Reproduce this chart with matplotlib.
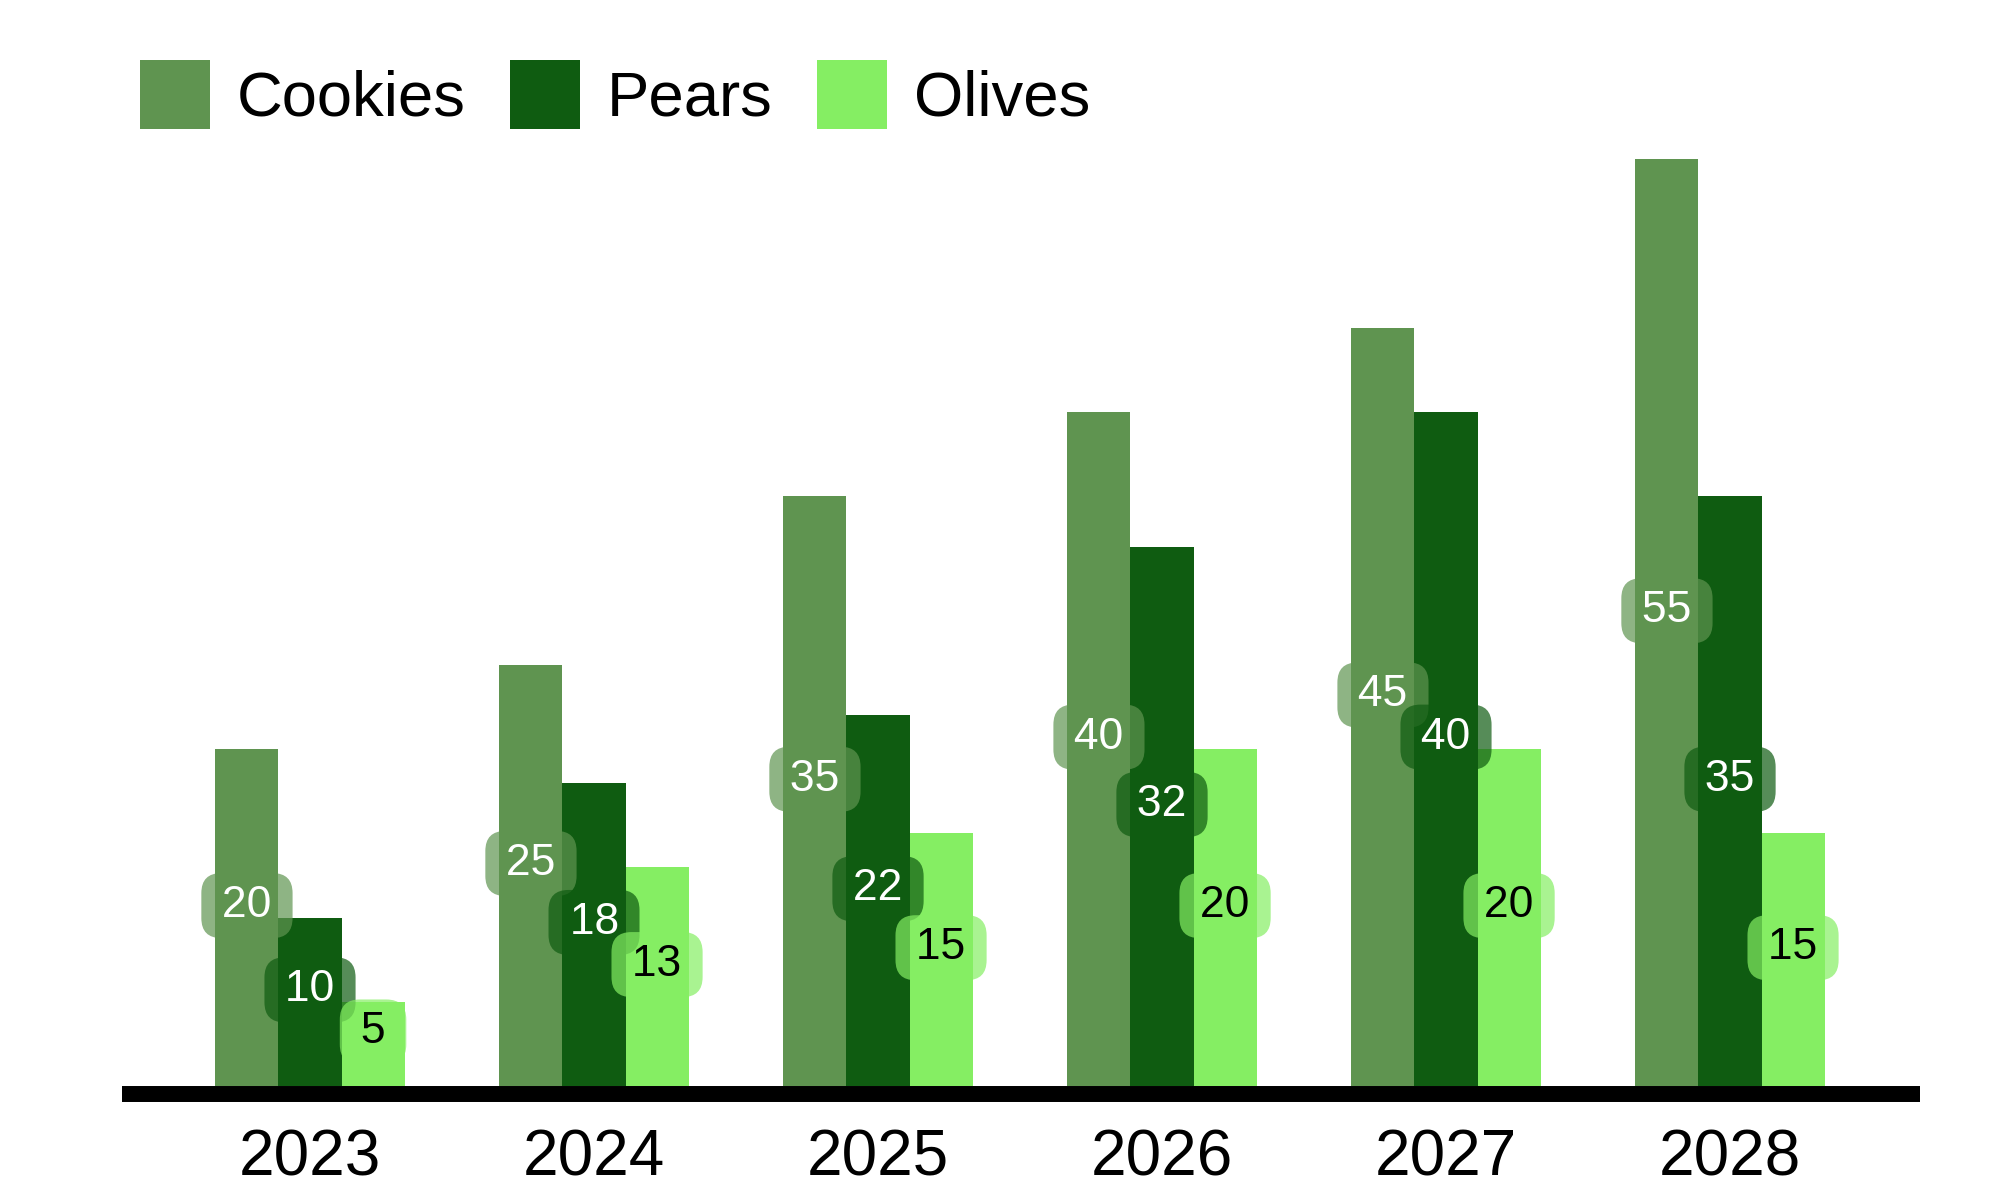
import matplotlib.pyplot as plt
import numpy as np

plt.rcParams['font.family'] = ['Liberation Sans', 'DejaVu Sans']

# data
years = ['2023', '2024', '2025', '2026', '2027', '2028']
series = ['Cookies', 'Pears', 'Olives']
cookies = [20, 25, 35, 40, 45, 55]
pears = [10, 18, 22, 32, 40, 35]
olives = [5, 13, 15, 20, 20, 15]

colors = ['#5f9450', '#0f5c11', '#85ee63']
text_colors = ['white', 'white', 'black']

fig = plt.figure(figsize=(20, 12), dpi=100)
ax = fig.add_axes([0.061, 0.0883, 0.899, 0.807])

x = np.arange(len(years))
width = 0.222
values = [cookies, pears, olives]

for i, (name, vals) in enumerate(zip(series, values)):
    pos = x + (i - 1) * width
    ax.bar(pos, vals, width, color=colors[i], label=name, zorder=1)

# value labels at the middle of each bar
for i, vals in enumerate(values):
    pos = x + (i - 1) * width
    for xp, v in zip(pos, vals):
        ax.annotate(f'\u2009{v}\u2009', (xp, v / 2), xytext=(0, 8.6), textcoords='offset points',
                    ha='center', va='center', fontsize=32, color=text_colors[i], zorder=5,
                    bbox=dict(boxstyle='round,pad=0.27,rounding_size=0.45',
                              facecolor=colors[i], edgecolor='none', alpha=0.7))

ax.set_xlim(-0.662, 5.669)
ax.set_ylim(-0.475, 57)
ax.set_xticks(x)
ax.set_xticklabels(years, fontsize=46)
ax.tick_params(axis='x', length=0, pad=25)
ax.set_yticks([])
for s in ['top', 'right', 'left']:
    ax.spines[s].set_visible(False)
ax.spines['bottom'].set_linewidth(11.5)
ax.spines['bottom'].set_color('black')
ax.spines['bottom'].set_capstyle('butt')

fig.legend(loc='upper left', bbox_to_anchor=(140 / 2000, 1 - 60 / 1200), ncol=3,
           frameon=False, fontsize=45.6, handlelength=1.1, handleheight=1.3,
           handletextpad=0.43, columnspacing=0.7, borderpad=0, borderaxespad=0)

fig.savefig('out.png', dpi=100)
